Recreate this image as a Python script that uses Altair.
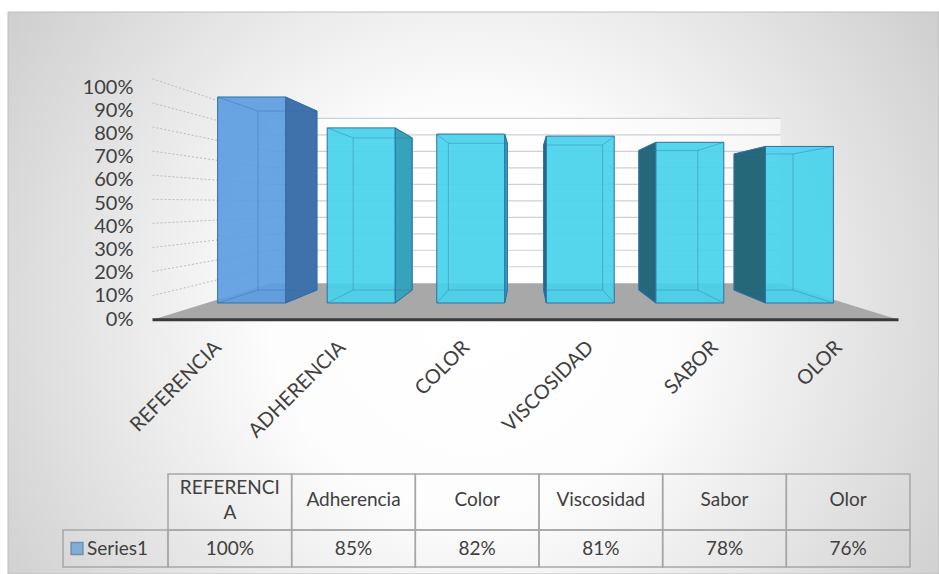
import altair as alt
import pandas as pd

# ---- data -----------------------------------------------------------------
categories = ["REFERENCIA", "ADHERENCIA", "COLOR", "VISCOSIDAD", "SABOR", "OLOR"]
table_headers = ["REFERENCI\nA", "Adherencia", "Color", "Viscosidad", "Sabor", "Olor"]
values = [1.00, 0.85, 0.82, 0.81, 0.78, 0.76]
series_name = "Series1"
y_ticks = [0.0, 0.1, 0.2, 0.3, 0.4, 0.5, 0.6, 0.7, 0.8, 0.9, 1.0]

# ---- style ----------------------------------------------------------------
FONT = "Lato"
TEXT = "#404040"
EDGE = "#2f6fa8"
FRONT = {"ref": "#5b9de0", "other": "#48d2ec"}
SIDE = {("ref", "right"): "#3f71ab", ("ref", "left"): "#2f5a8a",
        ("other", "right"): "#35a3b9", ("other", "left"): "#25687a"}

# ---- 3-D look: one-point perspective in (category index, value) units ----
VU, VV = 2.5, 0.48            # vanishing point
S_FLOOR, S_BACK, S_WALL = 1.17, 0.869, 0.80   # depth factors
HALF = 0.31                   # half width of a column front
ROOM = 2.91                   # half width of floor / back wall

X_DOMAIN = [-0.9, 5.9]
Y_DOMAIN = [-0.0777, 1.0485]

W, H = 745, 232
PAD = {"left": 153, "top": 87, "right": 41, "bottom": 255}


def proj(u, v, s):
    return VU + (u - VU) * s, VV + (v - VV) * s


def gx():
    return alt.X("u:Q", scale=alt.Scale(domain=X_DOMAIN, nice=False, zero=False), axis=None)


def gy():
    return alt.Y("v:Q", scale=alt.Scale(domain=Y_DOMAIN, nice=False, zero=False),
                 axis=None, stack=None)


# floor
fl = proj(VU - ROOM, 0, S_FLOOR)
bl = proj(VU - ROOM, 0, S_WALL)
br = proj(VU + ROOM, 0, S_WALL)
fr = proj(VU + ROOM, 0, S_FLOOR)
floor_df = pd.DataFrame([
    {"u": fl[0], "v": fl[1], "v2": fl[1]},
    {"u": bl[0], "v": bl[1], "v2": fl[1]},
    {"u": br[0], "v": br[1], "v2": fr[1]},
    {"u": fr[0], "v": fr[1], "v2": fr[1]},
])
edge_df = pd.DataFrame([{"u": fl[0], "v": fl[1], "u2": fr[0], "v2": fr[1]}])

# back wall and its gridlines, left wall gridlines
wall_top = proj(VU + ROOM, y_ticks[-1], S_WALL)
wall_df = pd.DataFrame([{"u": bl[0], "v": bl[1], "u2": wall_top[0], "v2": wall_top[1]}])
grid_rows, lwall_rows = [], []
for t in y_ticks[1:]:
    a = proj(VU - ROOM, t, S_WALL)
    b = proj(VU + ROOM, t, S_WALL)
    c = proj(VU - ROOM, t, S_FLOOR)
    grid_rows.append({"u": a[0], "v": a[1], "u2": b[0], "v2": b[1]})
    lwall_rows.append({"u": c[0], "v": c[1], "u2": a[0], "v2": a[1]})
grid_df = pd.DataFrame(grid_rows)
lwall_df = pd.DataFrame(lwall_rows)

# columns
front_rows, back_rows, link_rows, side_rows = [], [], [], []
for i, (cat, val) in enumerate(zip(categories, values)):
    kind = "ref" if i == 0 else "other"
    l, r = i - HALF, i + HALF
    front_rows.append({"cat": cat, "u": l, "u2": r, "v": val, "v2": 0.0, "fill": FRONT[kind]})
    p0 = proj(l, 0, S_BACK)
    p1 = proj(r, val, S_BACK)
    back_rows.append({"cat": cat, "u": p0[0], "u2": p1[0], "v": p1[1], "v2": p0[1]})
    for eu, ev in [(l, 0.0), (l, val), (r, 0.0), (r, val)]:
        p = proj(eu, ev, S_BACK)
        link_rows.append({"u": eu, "v": ev, "u2": p[0], "v2": p[1]})
    side = "right" if i < VU else "left"
    eu = r if side == "right" else l
    pb = proj(eu, 0, S_BACK)
    pt = proj(eu, val, S_BACK)
    col = SIDE[(kind, side)]
    side_rows.append({"cat": cat, "u": eu, "v": val, "v2": 0.0, "fill": col})
    side_rows.append({"cat": cat, "u": pb[0], "v": pt[1], "v2": pb[1], "fill": col})
front_df = pd.DataFrame(front_rows)
back_df = pd.DataFrame(back_rows)
link_df = pd.DataFrame(link_rows)
side_df = pd.DataFrame(side_rows)

# ---- layers ---------------------------------------------------------------
one = pd.DataFrame({"k": [0]})
background = alt.Chart(one).mark_rect(
    color={"gradient": "radial",
           "x1": 0.5, "y1": 0.52, "r1": 0, "x2": 0.5, "y2": 0.52, "r2": 0.72,
           "stops": [{"offset": 0, "color": "#ffffff"},
                     {"offset": 0.3, "color": "#fdfdfd"},
                     {"offset": 1, "color": "#bfbfbf"}]},
    stroke="#bdbdbd", strokeWidth=1,
).encode(x=alt.value(8 - PAD["left"]), x2=alt.value(939 - PAD["left"]),
         y=alt.value(12 - PAD["top"]), y2=alt.value(574 - PAD["top"]))

back_wall = alt.Chart(wall_df).mark_rect(color="#ffffff", opacity=0.6).encode(
    x=gx(), x2="u2:Q", y=gy(), y2="v2:Q")
back_grid = alt.Chart(grid_df).mark_rule(color="#cbd1d8", strokeWidth=1.2).encode(
    x=gx(), x2="u2:Q", y=gy(), y2="v2:Q")
left_grid = alt.Chart(lwall_df).mark_rule(color="#bcbcbc", strokeWidth=1, strokeDash=[2, 2]).encode(
    x=gx(), x2="u2:Q", y=gy(), y2="v2:Q")
floor = alt.Chart(floor_df).mark_area(orient="vertical", color="#a8a8a8").encode(
    x=gx(), y=gy(), y2="v2:Q")
floor_edge = alt.Chart(edge_df).mark_rule(color="#3a3a3a", strokeWidth=3).encode(
    x=gx(), x2="u2:Q", y=gy(), y2="v2:Q")

sides = alt.Chart(side_df).mark_area(orient="vertical", stroke=EDGE, strokeWidth=1).encode(
    x=gx(), y=gy(), y2="v2:Q", detail="cat:N", fill=alt.Fill("fill:N", scale=None))
fronts = alt.Chart(front_df).mark_rect(stroke=EDGE, strokeWidth=1, fillOpacity=0.92).encode(
    x=gx(), x2="u2:Q", y=gy(), y2="v2:Q", fill=alt.Fill("fill:N", scale=None))
backs = alt.Chart(back_df).mark_rect(fillOpacity=0, stroke=EDGE, strokeWidth=1, strokeOpacity=0.4).encode(
    x=gx(), x2="u2:Q", y=gy(), y2="v2:Q")
links = alt.Chart(link_df).mark_rule(color=EDGE, strokeWidth=1, opacity=0.4).encode(
    x=gx(), x2="u2:Q", y=gy(), y2="v2:Q")

scene = alt.layer(back_wall, back_grid, left_grid, floor, sides, fronts, backs, links, floor_edge)

# axes: value labels on the left, rotated category names under the floor
axis_df = pd.DataFrame({"category": categories, "value": values})
axes = alt.Chart(axis_df).mark_bar(opacity=0).encode(
    x=alt.X("category:N", sort=categories,
            scale=alt.Scale(paddingInner=0, paddingOuter=0),
            axis=alt.Axis(title=None, labelAngle=-45, labelAlign="right", labelBaseline="middle",
                          labelPadding=25, labelOffset=3, labelFont=FONT, labelFontSize=20,
                          labelColor=TEXT, domain=False, ticks=False, grid=False,
                          labelOverlap=False, zindex=2)),
    y=alt.Y("value:Q", scale=alt.Scale(domain=[0, 1], nice=False, zero=False),
            axis=alt.Axis(title=None, values=y_ticks, format=".0%", labelPadding=20,
                          labelFont=FONT, labelFontSize=20, labelColor=TEXT,
                          domain=False, ticks=False, grid=False,
                          labelOverlap=False, labelFlush=False, zindex=2)),
)

# data table under the chart
table_df = pd.DataFrame({"category": categories, "header": table_headers, "value": values})
tx = alt.X("category:N", sort=categories,
           scale=alt.Scale(range=[168 - PAD["left"], 910 - PAD["left"]], paddingInner=0, paddingOuter=0),
           axis=None)
ROW1_TOP, ROW2_TOP, ROW2_BOT = 474 - PAD["top"], 530 - PAD["top"], 567 - PAD["top"]
LINE_H = 25
head_mid = (ROW1_TOP + ROW2_TOP) / 2 - 2
cell_style = dict(fillOpacity=0, stroke="#a6a6a6", strokeWidth=1.5)
text_style = dict(font=FONT, fontSize=19, color=TEXT, baseline="middle")
wrapped = "indexof(datum.header, '\\n') >= 0"

head_cells = alt.Chart(table_df).mark_rect(**cell_style).encode(
    x=tx, y=alt.value(ROW1_TOP), y2=alt.value(ROW2_TOP))
val_cells = alt.Chart(table_df).mark_rect(**cell_style).encode(
    x=tx, y=alt.value(ROW2_TOP), y2=alt.value(ROW2_BOT))
head_text_1 = alt.Chart(table_df).transform_filter("!(" + wrapped + ")").mark_text(
    **text_style).encode(x=tx, y=alt.value(head_mid), text="header:N")
head_text_2 = alt.Chart(table_df).transform_filter(wrapped).mark_text(
    lineBreak="\n", lineHeight=LINE_H, **text_style
).encode(x=tx, y=alt.value(head_mid - LINE_H / 2), text="header:N")
val_text = alt.Chart(table_df).mark_text(**text_style).encode(
    x=tx, y=alt.value((ROW2_TOP + ROW2_BOT) / 2), text=alt.Text("value:Q", format=".0%"))
legend_cell = alt.Chart(one).mark_rect(**cell_style).encode(
    x=alt.value(63 - PAD["left"]), x2=alt.value(168 - PAD["left"]),
    y=alt.value(ROW2_TOP), y2=alt.value(ROW2_BOT))
legend_key = alt.Chart(one).mark_square(size=140, filled=True, color="#5b9bd5",
                                        stroke="#41719c", strokeWidth=1.5).encode(
    x=alt.value(77 - PAD["left"]), y=alt.value((ROW2_TOP + ROW2_BOT) / 2))
legend_text = alt.Chart(one).mark_text(align="left", text=series_name, **text_style).encode(
    x=alt.value(87 - PAD["left"]), y=alt.value((ROW2_TOP + ROW2_BOT) / 2))

table = alt.layer(head_cells, val_cells, head_text_1, head_text_2, val_text,
                  legend_cell, legend_key, legend_text)

chart = alt.layer(background, scene, axes, table).resolve_scale(
    x="independent", y="independent"
).properties(
    width=W, height=H, padding=PAD, autosize=alt.AutoSizeParams(type="none"),
    background="#ffffff",
).configure_view(strokeWidth=0)

chart.save("out.html", embed_options={"renderer": "svg", "actions": False})
